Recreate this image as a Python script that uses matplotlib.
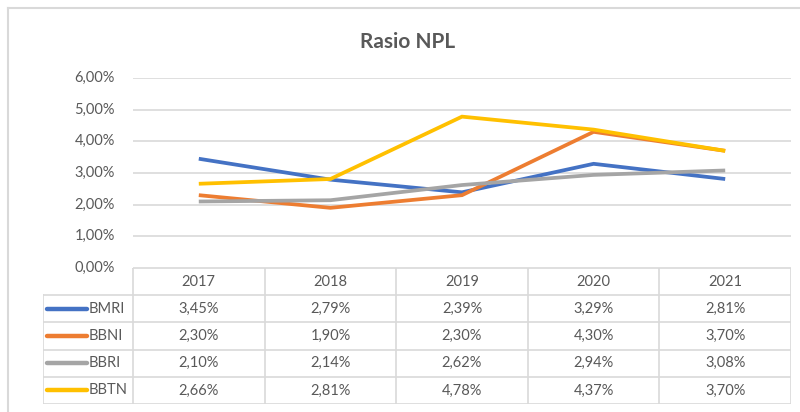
import numpy as np
import matplotlib.pyplot as plt
from matplotlib.lines import Line2D
from matplotlib.ticker import FuncFormatter

plt.rcParams['font.family'] = ['Lato', 'DejaVu Sans']

# Data
tahun = ['2017', '2018', '2019', '2020', '2021']
bank = ['BMRI', 'BBNI', 'BBRI', 'BBTN']
bmri = [3.45, 2.79, 2.39, 3.29, 2.81]
bbni = [2.30, 1.90, 2.30, 4.30, 3.70]
bbri = [2.10, 2.14, 2.62, 2.94, 3.08]
bbtn = [2.66, 2.81, 4.78, 4.37, 3.70]
warna = ['#4472C4', '#ED7D31', '#A5A5A5', '#FFC000']

seri = [bmri, bbni, bbri, bbtn]
teks = '#595959'
garis = '#D9D9D9'

W, H = 800, 412
fig = plt.figure(figsize=(W / 100, H / 100), dpi=100)

def kotak(x0, y0, x1, y1):
    # pixel box (top-left origin) -> figure fraction
    return [x0 / W, 1 - y1 / H, (x1 - x0) / W, (y1 - y0) / H]

# chart border (top and left visible)
fig.add_artist(Line2D([8 / W, 8 / W], [0, 1 - 8 / H], color=garis, lw=1.5))
fig.add_artist(Line2D([8 / W, 1], [1 - 8 / H, 1 - 8 / H], color=garis, lw=1.5))

# line chart
ax = fig.add_axes(kotak(133, 78, 791, 268))
x = np.arange(len(tahun))
for s, c in zip(seri, warna):
    ax.plot(x, s, color=c, lw=2.7, solid_capstyle='butt', solid_joinstyle='miter')
ax.set_xlim(-0.5, len(tahun) - 0.5)
ax.set_ylim(0, 6)
ax.set_yticks(np.arange(0, 7, 1))
ax.yaxis.set_major_formatter(FuncFormatter(lambda v, p: f'{v:.2f}%'.replace('.', ',')))
ax.grid(axis='y', color=garis, lw=1.2)
ax.set_axisbelow(True)
ax.set_xticks([])
for sp in ax.spines.values():
    sp.set_visible(False)
ax.tick_params(axis='y', length=0, pad=13, labelsize=10.5, labelcolor=teks)
for lbl in ax.get_yticklabels():
    lbl.set_verticalalignment('center')

fig.text(408 / W, 1 - 42 / H, 'Rasio NPL', ha='center', va='center',
         fontsize=15, fontweight='bold', color=teks)

# data table
lbl_w = 90 / 131.6
tab = fig.add_axes(kotak(43, 268, 791, 404))
tab.set_xlim(-0.5 - lbl_w, len(tahun) - 0.5)
tab.set_ylim(len(bank) + 1, 0)
tab.axis('off')
x0 = -0.5 - lbl_w
x1 = len(tahun) - 0.5
# horizontal lines
tab.plot([-0.5, x1], [0, 0], color=garis, lw=1.2)
for r in range(1, len(bank) + 2):
    tab.plot([x0, x1], [r, r], color=garis, lw=1.2)
# vertical lines
tab.plot([x0, x0], [1, len(bank) + 1], color=garis, lw=1.2)
for c in range(len(tahun) + 1):
    tab.plot([c - 0.5, c - 0.5], [0, len(bank) + 1], color=garis, lw=1.2)

for i, t in enumerate(tahun):
    tab.text(i, 0.5, t, ha='center', va='center', fontsize=10.5, color=teks)
for r, (b, s, c) in enumerate(zip(bank, seri, warna)):
    yy = r + 1.5
    tab.plot([x0 + 4 / 131.6, x0 + 44 / 131.6], [yy, yy], color=c, lw=3.2,
             solid_capstyle='round')
    tab.text(x0 + 46 / 131.6, yy, b, ha='left', va='center', fontsize=10.5, color=teks)
    for i, v in enumerate(s):
        tab.text(i, yy, f'{v:.2f}%'.replace('.', ','), ha='center', va='center',
                 fontsize=10.5, color=teks)

fig.savefig('out.png', dpi=100, facecolor='white')
